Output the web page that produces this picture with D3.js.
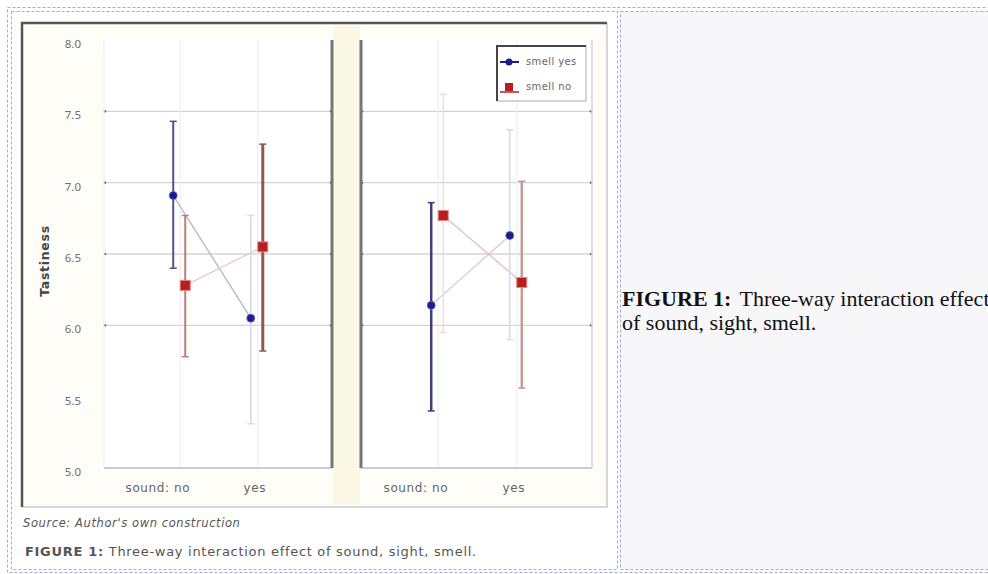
<!DOCTYPE html>
<html>
<head>
<meta charset="utf-8">
<script src="https://cdn.jsdelivr.net/npm/d3@7"></script>
<style>
  body { margin: 0; background: #fff; }
  svg { display: block; }
</style>
</head>
<body>
<div id="graf"></div>
<script>
// data
const panels = ['sight: no', 'sight: yes']
const soundLevels = ['no', 'yes']
const yTicks = [5.0, 5.5, 6.0, 6.5, 7.0, 7.5, 8.0]
const gridTicks = [6.0, 6.5, 7.0, 7.5]

const smellYesMean = [[6.91, 6.05], [6.14, 6.63]]
const smellYesLow = [[6.40, 5.31], [5.40, 5.90]]
const smellYesHigh = [[7.43, 6.77], [6.86, 7.37]]
const smellNoMean = [[6.28, 6.55], [6.77, 6.30]]
const smellNoLow = [[5.78, 5.82], [5.95, 5.56]]
const smellNoHigh = [[6.77, 7.27], [7.62, 7.01]]

// styling of each error bar (dark / faded look in the original)
const barColYes = [['#4e5488', '#d6d6ec'], ['#39407a', '#d9d9ef']]
const barColNo = [['#b98078', '#8c5a55'], ['#f2dcdc', '#c49a98']]
const barWYes = [[2, 1.5], [2.5, 1.5]]
const barWNo = [[2, 3], [1.5, 2.5]]
const lineColYes = ['#b4b4c4', '#d8cce0']
const lineColNo = ['#ecc8c8', '#e4bcc4']

const W = 988
const H = 574
const font = '"Noto Sans", "Open Sans", sans-serif'
const wide = '"DejaVu Sans", Verdana, sans-serif'

const svg = d3.select('#graf').append('svg').attr('width', W).attr('height', H)

// table cells
svg.append('rect').attr('x', 620).attr('y', 11).attr('width', 380).attr('height', 558).attr('fill', '#f7f7f9')
const dash = (x, y, w, h) =>
  svg.append('rect').attr('x', x).attr('y', y).attr('width', w).attr('height', h)
    .attr('fill', 'none').attr('stroke', '#94b2d8').attr('stroke-dasharray', '3,2')
dash(7.5, 7.5, 1000, 565)
dash(11.5, 11.5, 606, 558)
dash(620.5, 11.5, 400, 558)

// picture frame
const frame = { x: 22, y: 23, w: 585, h: 484 }
svg.append('rect').attr('x', frame.x).attr('y', frame.y).attr('width', frame.w).attr('height', frame.h).attr('fill', '#fefdf8')
svg.append('path').attr('d', `M${frame.x + frame.w},${frame.y}V${frame.y + frame.h}H${frame.x}`)
  .attr('fill', 'none').attr('stroke', '#d6d6d6').attr('stroke-width', 2)
svg.append('path').attr('d', `M${frame.x},${frame.y + frame.h}V${frame.y}H${frame.x + frame.w}`)
  .attr('fill', 'none').attr('stroke', '#555').attr('stroke-width', 2.5)
svg.append('rect').attr('x', 333).attr('y', 26).attr('width', 27).attr('height', 478).attr('fill', '#fbf8e6')

const y = d3.scaleLinear().domain([5, 8]).range([468, 40])
const panelX = [[104, 332], [361, 592]]

// y axis labels
svg.append('g').selectAll('text').data(yTicks).join('text')
  .attr('x', 81).attr('y', (d) => y(d) + 8)
  .attr('text-anchor', 'end').attr('font-family', font).attr('font-size', 11.5).attr('fill', '#707070')
  .text((d) => d.toFixed(1))

svg.append('text')
  .attr('transform', `translate(49, 261) rotate(-90)`)
  .attr('text-anchor', 'middle').attr('font-family', wide).attr('font-size', 12.5)
  .attr('letter-spacing', 0.7).attr('font-weight', 'bold').attr('fill', '#444').text('Tastiness')

panels.forEach((p, i) => {
  const [x0, x1] = panelX[i]
  const x = d3.scalePoint().domain(soundLevels).range([x0, x1]).padding(0.97)
  const g = svg.append('g')

  g.append('rect').attr('x', x0).attr('y', 40).attr('width', x1 - x0).attr('height', 428).attr('fill', '#fff')

  // grid
  g.selectAll('.grid').data(gridTicks).join('line')
    .attr('x1', x0).attr('x2', x1).attr('y1', (d) => y(d)).attr('y2', (d) => y(d))
    .attr('stroke', '#d4d4d4').attr('stroke-width', 1.3)
  g.selectAll('.dotl').data(gridTicks).join('circle')
    .attr('cx', x0 + 1).attr('cy', (d) => y(d)).attr('r', 1.3).attr('fill', '#777')
  g.selectAll('.dotr').data(gridTicks).join('circle')
    .attr('cx', x1 - 1).attr('cy', (d) => y(d)).attr('r', 1.3).attr('fill', '#777')

  // faint category lines
  g.selectAll('.cat').data(soundLevels).join('line')
    .attr('x1', (d) => x(d) + 1).attr('x2', (d) => x(d) + 1).attr('y1', 40).attr('y2', 468)
    .attr('stroke', '#eeeeee').attr('stroke-width', 1.2)

  // panel borders
  g.append('line').attr('x1', x0).attr('x2', x1).attr('y1', 468).attr('y2', 468).attr('stroke', '#cccccc').attr('stroke-width', 2)
  if (i === 0) {
    g.append('line').attr('x1', x0).attr('x2', x0).attr('y1', 40).attr('y2', 468).attr('stroke', '#ececec')
    g.append('line').attr('x1', x1).attr('x2', x1).attr('y1', 40).attr('y2', 468).attr('stroke', '#777').attr('stroke-width', 3)
  } else {
    g.append('line').attr('x1', x0).attr('x2', x0).attr('y1', 40).attr('y2', 468).attr('stroke', '#777').attr('stroke-width', 3)
    g.append('line').attr('x1', x1).attr('x2', x1).attr('y1', 40).attr('y2', 468).attr('stroke', '#d4d4d4').attr('stroke-width', 1.5)
  }

  const series = [
    { mean: smellYesMean[i], lo: smellYesLow[i], hi: smellYesHigh[i], dx: -6, col: barColYes[i], w: barWYes[i], line: lineColYes[i], kind: 'yes' },
    { mean: smellNoMean[i], lo: smellNoLow[i], hi: smellNoHigh[i], dx: 6, col: barColNo[i], w: barWNo[i], line: lineColNo[i], kind: 'no' },
  ]

  const line = d3.line().x((d) => d.x).y((d) => y(d.v))
  series.forEach((s) => {
    const pts = soundLevels.map((lv, j) => ({ x: x(lv) + s.dx, v: s.mean[j] }))
    g.append('path').attr('d', line(pts)).attr('fill', 'none').attr('stroke', s.line).attr('stroke-width', 1.3)
  })

  series.forEach((s) => {
    soundLevels.forEach((lv, j) => {
      const cx = x(lv) + s.dx
      g.append('line').attr('x1', cx).attr('x2', cx).attr('y1', y(s.hi[j])).attr('y2', y(s.lo[j]))
        .attr('stroke', s.col[j]).attr('stroke-width', s.w[j])
      ;[s.hi[j], s.lo[j]].forEach((v) => {
        g.append('line').attr('x1', cx - 3.5).attr('x2', cx + 3.5).attr('y1', y(v)).attr('y2', y(v))
          .attr('stroke', s.col[j]).attr('stroke-width', 1.5)
      })
    })
  })

  series.forEach((s) => {
    soundLevels.forEach((lv, j) => {
      const cx = x(lv) + s.dx
      const cy = y(s.mean[j])
      if (s.kind === 'yes') {
        g.append('circle').attr('cx', cx).attr('cy', cy).attr('r', 4).attr('fill', '#1c1c8e').attr('stroke', '#6a6ab8').attr('stroke-width', 0.8)
      } else {
        g.append('rect').attr('x', cx - 5).attr('y', cy - 5).attr('width', 10).attr('height', 10)
          .attr('fill', '#b41f1f').attr('stroke', '#e88080').attr('stroke-width', 1)
      }
    })
  })

  // x labels
  g.append('text').attr('x', x('no') + 11).attr('y', 492).attr('text-anchor', 'end')
    .attr('font-family', wide).attr('font-size', 12).attr('letter-spacing', 0.6).attr('fill', '#666').text('sound: no')
  g.append('text').attr('x', x('yes') - 2).attr('y', 492).attr('text-anchor', 'middle')
    .attr('font-family', wide).attr('font-size', 12).attr('letter-spacing', 0.6).attr('fill', '#666').text('yes')
})

// legend
const lg = svg.append('g')
lg.append('rect').attr('x', 497).attr('y', 46).attr('width', 89).attr('height', 55).attr('fill', '#fff').attr('stroke', '#aaa')
lg.append('path').attr('d', 'M497,101V46H586').attr('fill', 'none').attr('stroke', '#444').attr('stroke-width', 2)
lg.append('line').attr('x1', 500).attr('x2', 519).attr('y1', 62).attr('y2', 62).attr('stroke', '#1c1c8e').attr('stroke-width', 2)
lg.append('circle').attr('cx', 509).attr('cy', 62).attr('r', 3.5).attr('fill', '#1c1c8e')
lg.append('line').attr('x1', 500).attr('x2', 519).attr('y1', 92).attr('y2', 92).attr('stroke', '#b41f1f').attr('stroke-width', 1.5)
lg.append('rect').attr('x', 505).attr('y', 83).attr('width', 8).attr('height', 8).attr('fill', '#b41f1f')
lg.append('text').attr('x', 526).attr('y', 65).attr('font-family', wide).attr('font-size', 10).attr('letter-spacing', 0.4).attr('fill', '#666').text('smell yes')
lg.append('text').attr('x', 526).attr('y', 90).attr('font-family', wide).attr('font-size', 10).attr('letter-spacing', 0.4).attr('fill', '#666').text('smell no')

// captions in the picture
svg.append('text').attr('x', 23).attr('y', 527).attr('font-family', wide).attr('font-size', 11.5)
  .attr('letter-spacing', 0.6).attr('font-style', 'italic').attr('fill', '#555').text("Source: Author's own construction")
const cap = svg.append('text').attr('x', 25).attr('y', 556).attr('font-family', wide).attr('font-size', 13)
  .attr('letter-spacing', 0.7).attr('fill', '#555')
cap.append('tspan').attr('font-weight', 'bold').text('FIGURE 1:')
cap.append('tspan').text(' Three-way interaction effect of sound, sight, smell.')

// caption in the table cell (cut by the window edge, as in the original)
const serif = '"Liberation Serif", "Times New Roman", serif'
const t1 = svg.append('text').attr('x', 622).attr('y', 306).attr('font-family', serif).attr('font-size', 22).attr('fill', '#111')
t1.append('tspan').attr('font-weight', 'bold').text('FIGURE 1:')
t1.append('tspan').attr('dx', 3).text(' Three-way interaction effect')
svg.append('text').attr('x', 622).attr('y', 330).attr('font-family', serif).attr('font-size', 22).attr('fill', '#111')
  .text('of sound, sight, smell.')
</script>
</body>
</html>
